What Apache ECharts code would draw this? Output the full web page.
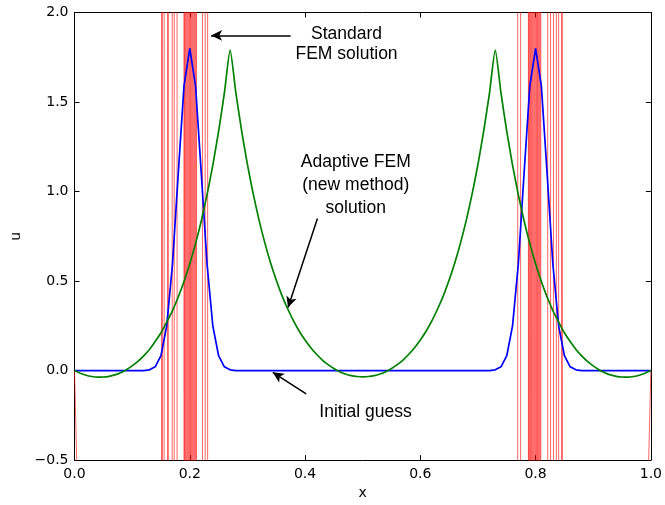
<!DOCTYPE html>
<html>
<head>
<meta charset="utf-8">
<script src="https://cdn.jsdelivr.net/npm/echarts@6/dist/echarts.min.js"></script>
<style>html,body{margin:0;padding:0;background:#fff;}#c{width:665px;height:505px;}</style>
</head>
<body>
<div id="c"></div>
<script>
// ---- data ----
const gridX = [0,0.01,0.02,0.03,0.04,0.05,0.06,0.07,0.08,0.09,0.1,0.11,0.12,0.13,0.14,0.15,0.16,0.17,0.18,0.19,0.2,
0.21,0.22,0.23,0.24,0.25,0.26,0.27,0.28,0.29,0.3,0.31,0.32,0.33,0.34,0.35,0.36,0.37,0.38,0.39,0.4,
0.41,0.42,0.43,0.44,0.45,0.46,0.47,0.48,0.49,0.5,0.51,0.52,0.53,0.54,0.55,0.56,0.57,0.58,0.59,0.6,
0.61,0.62,0.63,0.64,0.65,0.66,0.67,0.68,0.69,0.7,0.71,0.72,0.73,0.74,0.75,0.76,0.77,0.78,0.79,0.8,
0.81,0.82,0.83,0.84,0.85,0.86,0.87,0.88,0.89,0.9,0.91,0.92,0.93,0.94,0.95,0.96,0.97,0.98,0.99,1.0];

// Initial guess (blue)
const initialGuess = [0,0,0,0,0,0,0,0,0,0,0,0,0,0.004,0.021,0.083,0.25,0.594,1.10,1.59,1.80,
1.59,1.10,0.594,0.25,0.083,0.021,0.004,0,0,0,0,0,0,0,0,0,0,0,0,0,
0,0,0,0,0,0,0,0,0,0,0,0,0,0,0,0,0,0,0,0,
0,0,0,0,0,0,0,0,0,0,0,0,0.004,0.021,0.083,0.25,0.594,1.10,1.59,1.80,
1.59,1.10,0.594,0.25,0.083,0.021,0.004,0,0,0,0,0,0,0,0,0,0,0,0,0];

// Adaptive FEM (new method) solution (green)
const adaptiveFEM = [0,-0.015,-0.026,-0.033,-0.037,-0.036,-0.032,-0.024,-0.012,0.005,0.026,
0.051,0.082,0.118,0.162,0.211,0.271,0.335,0.411,0.498,0.597,
0.709,0.837,0.983,1.148,1.336,1.549,1.790,1.550,1.339,1.152,
0.988,0.843,0.716,0.604,0.506,0.419,0.344,0.278,0.220,0.171,
0.128,0.091,0.059,0.033,0.012,-0.006,-0.019,-0.028,-0.033,-0.035,
-0.033,-0.028,-0.019,-0.006,0.012,0.033,0.059,0.091,0.128,0.171,
0.220,0.278,0.344,0.419,0.506,0.604,0.716,0.843,0.988,1.152,
1.339,1.550,1.790,1.549,1.336,1.148,0.983,0.837,0.709,0.597,
0.498,0.411,0.335,0.271,0.211,0.162,0.118,0.082,0.051,0.026,
0.005,-0.012,-0.024,-0.032,-0.036,-0.037,-0.033,-0.026,-0.015,0];

// Standard FEM solution (red): oscillating far outside the axes at these nodes
const standardSpikeX = [0.151,0.154,0.157,0.1615,0.164,0.1695,0.173,0.178,
0.190,0.1915,0.193,0.1945,0.196,0.1975,0.199,0.2005,0.202,0.2035,0.205,0.2065,0.208,0.2095,0.211,0.2125,
0.222,0.2267,0.231,
0.769,0.774,
0.7875,0.789,0.7905,0.792,0.7935,0.795,0.7965,0.798,0.7995,0.801,0.8025,0.804,0.8055,0.807,0.8085,0.8095,
0.821,0.826,0.831,0.836,0.840,0.845,0.848];
const standardSpikeAmp = 40;
const standardStartX = [0, 0.01], standardStartU = [0, -1.3];
const standardEndX = [0.99, 1.0], standardEndU = [-1.3, 0];

// axes
const xTicks = {min: 0, max: 1, interval: 0.2};
const yTicks = {min: -0.5, max: 2.0, interval: 0.5};

// annotations
const annoText = ['Standard\nFEM solution', 'Adaptive FEM\n(new method)\nsolution', 'Initial guess'];
const annoTextX = [0.472, 0.488, 0.505];
const annoTextY = [1.824, 1.035, -0.232];
const annoLineHeight = [20, 23, 20];
const arrowFromX = [0.375, 0.4215, 0.402];
const arrowFromY = [1.872, 0.849, -0.130];
const arrowToX = [0.237, 0.3705, 0.344];
const arrowToY = [1.872, 0.352, -0.010];

// ---- build ----
const blueData = gridX.map((x, i) => [x, initialGuess[i]]);
const greenData = gridX.map((x, i) => [x, adaptiveFEM[i]]);
const redData = standardStartX.map((x, i) => [x, standardStartU[i]]);
let s = -1;
standardSpikeX.forEach(x => {
  redData.push([x, s * standardSpikeAmp]);
  s = -s;
  redData.push([x, s * standardSpikeAmp]);
});
if (redData[redData.length - 1][1] > 0) {
  const lx = redData[redData.length - 1][0];
  redData.push([lx, -standardSpikeAmp]);
}
standardEndX.forEach((x, i) => redData.push([x, standardEndU[i]]));

const tickFont = {fontFamily: 'DejaVu Sans', fontSize: 14, color: '#000'};
const fmt = v => v.toFixed(1).replace('-', '\u2212');

function xAx(pos, labels) {
  return Object.assign({
    type: 'value', position: pos,
    axisLine: {show: true, onZero: false, lineStyle: {color: '#000', width: 1}},
    axisTick: {show: true, inside: true, length: 5, lineStyle: {color: '#000', width: 1}},
    axisLabel: Object.assign({show: labels, margin: 7, formatter: fmt, showMinLabel: true, showMaxLabel: true}, tickFont),
    splitLine: {show: false}
  }, xTicks);
}
function yAx(pos, labels) {
  return Object.assign({
    type: 'value', position: pos,
    axisLine: {show: true, onZero: false, lineStyle: {color: '#000', width: 1}},
    axisTick: {show: true, inside: true, length: 5, lineStyle: {color: '#000', width: 1}},
    axisLabel: Object.assign({show: labels, margin: 6, formatter: fmt, showMinLabel: true, showMaxLabel: true}, tickFont),
    splitLine: {show: false}
  }, yTicks);
}

const xa0 = xAx('bottom', true);
xa0.name = 'x'; xa0.nameLocation = 'middle'; xa0.nameGap = 19;
xa0.nameTextStyle = {fontFamily: 'DejaVu Sans', fontSize: 14, color: '#000'};
const ya0 = yAx('left', true);
ya0.name = 'u'; ya0.nameLocation = 'middle'; ya0.nameGap = 47;
ya0.nameTextStyle = {fontFamily: 'DejaVu Sans', fontSize: 14, color: '#000'};

const annoFont = {fontFamily: 'Liberation Sans', fontSize: 17.5, color: '#000'};

const chart = echarts.init(document.getElementById('c'), null, {renderer: 'canvas'});
chart.setOption({
  animation: false,
  backgroundColor: '#fff',
  grid: {left: 74.5, right: 13.5, top: 12.5, bottom: 44, containLabel: false},
  xAxis: [xa0, xAx('top', false)],
  yAxis: [ya0, yAx('right', false)],
  series: [
    {
      name: 'Standard FEM solution', type: 'line', data: redData,
      xAxisIndex: 0, yAxisIndex: 0, clip: true,
      showSymbol: false, symbol: 'none',
      lineStyle: {color: 'rgba(255,0,0,0.6)', width: 1}, z: 1, silent: true
    },
    {
      name: 'Initial guess', type: 'line', data: blueData,
      xAxisIndex: 0, yAxisIndex: 0, clip: true,
      showSymbol: false, symbol: 'none',
      lineStyle: {color: '#0000ff', width: 1.7}, z: 2, silent: true
    },
    {
      name: 'Adaptive FEM', type: 'line', data: greenData,
      xAxisIndex: 0, yAxisIndex: 0, clip: true,
      showSymbol: false, symbol: 'none', smooth: 0.2,
      lineStyle: {color: '#008000', width: 1.7}, z: 3, silent: true,
      markLine: {
        silent: true, animation: false,
        symbol: ['none', 'arrow'], symbolSize: [8, 11],
        lineStyle: {color: '#000', width: 1.5, type: 'solid'},
        label: {show: false},
        data: arrowFromX.map((x, i) => [
          {coord: [x, arrowFromY[i]]},
          {coord: [arrowToX[i], arrowToY[i]]}
        ])
      },
      markPoint: {
        silent: true, animation: false,
        symbol: 'circle', symbolSize: 0,
        label: Object.assign({show: true, position: 'inside', align: 'center', verticalAlign: 'middle', formatter: p => p.name}, annoFont),
        data: annoText.map((t, i) => ({
          name: t, coord: [annoTextX[i], annoTextY[i]],
          label: {lineHeight: annoLineHeight[i]}
        }))
      }
    }
  ]
});
</script>
</body>
</html>
